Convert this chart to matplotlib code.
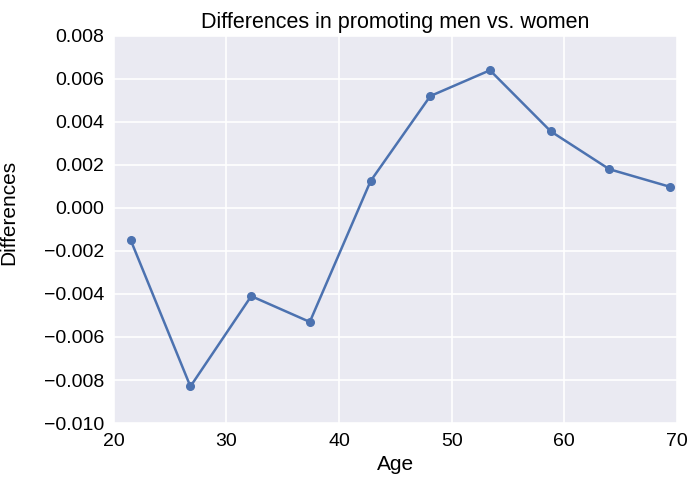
import matplotlib
matplotlib.use("Agg")
import matplotlib.pyplot as plt

# age bins and differences
age = [21.5, 26.8, 32.2, 37.4, 42.8, 48.1, 53.4, 58.8, 64.0, 69.4]
diff = [-0.0015, -0.0083, -0.0041, -0.0053, 0.00125, 0.0052, 0.0064, 0.00356, 0.0018, 0.00098]

plt.rcParams["font.family"] = ["Liberation Sans", "DejaVu Sans"]

fig = plt.figure(figsize=(6.9, 4.78), dpi=100)
ax = fig.add_axes([0.165, 0.115, 0.816, 0.81])
ax.set_facecolor("#EAEAF2")
for s in ax.spines.values():
    s.set_visible(False)
ax.grid(True, color="white", linewidth=1.2)
ax.set_axisbelow(True)

ax.plot(age, diff, color="#4C72B0", linewidth=1.8, marker="o", markersize=5.5)

ax.set_xlim(20, 70)
ax.set_ylim(-0.010, 0.008)
ax.set_xticks([20, 30, 40, 50, 60, 70])
ax.set_yticks([-0.010, -0.008, -0.006, -0.004, -0.002, 0.000, 0.002, 0.004, 0.006, 0.008])
ax.set_yticklabels(["\u22120.010", "\u22120.008", "\u22120.006", "\u22120.004", "\u22120.002",
                    "0.000", "0.002", "0.004", "0.006", "0.008"])
ax.tick_params(length=0, labelsize=14, pad=7)

ax.set_title("Differences in promoting men vs. women", fontsize=15.5, pad=6)
ax.set_xlabel("Age", fontsize=15, labelpad=4)
ax.set_ylabel("Differences", fontsize=15)
ax.yaxis.set_label_coords(-0.17, 0.545)

fig.savefig("out.png", dpi=100)
